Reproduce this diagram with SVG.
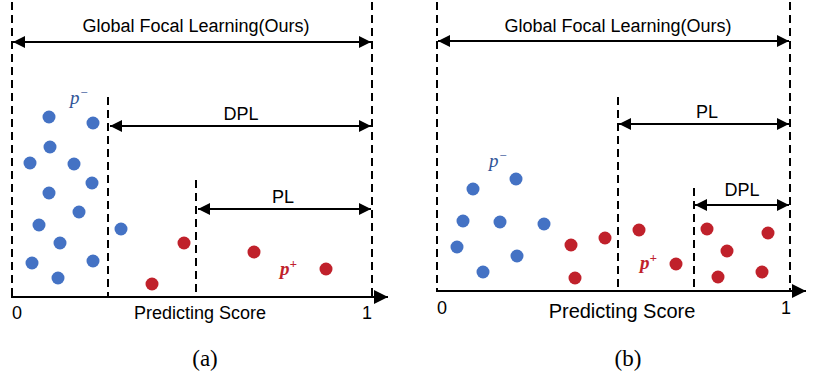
<svg xmlns="http://www.w3.org/2000/svg" width="820" height="374" viewBox="0 0 820 374">
<defs>
<marker id="ah" viewBox="0 0 12 12" refX="12" refY="6" markerWidth="12" markerHeight="12" markerUnits="userSpaceOnUse" orient="auto-start-reverse">
<path d="M0,0 L12,6 L0,12 z" fill="#000"/>
</marker>
<marker id="axh" viewBox="0 0 14 14" refX="14" refY="7" markerWidth="14" markerHeight="14" markerUnits="userSpaceOnUse" orient="auto">
<path d="M0,0 L14,7 L0,14 z" fill="#000"/>
</marker>
</defs>
<style>
.dash{stroke:#000;stroke-width:2;stroke-dasharray:8 5;fill:none}
.arr{stroke:#000;stroke-width:2.2;fill:none;marker-start:url(#ah);marker-end:url(#ah)}
.axis{stroke:#000;stroke-width:2.2;fill:none;marker-end:url(#axh)}
.lbl{font-family:"Liberation Sans",Arial,sans-serif;font-size:18px;fill:#000;text-anchor:middle}
.b{fill:#4472C4}
.r{fill:#C0212B}
.pm{font-family:"Liberation Serif","DejaVu Serif",serif;font-style:italic;font-size:19px;fill:#2F5597}
.pp{font-family:"Liberation Serif","DejaVu Serif",serif;font-style:italic;font-weight:bold;font-size:19px;fill:#C0212B}
.sup{font-size:13px}
.cap{font-family:"Liberation Serif","Times New Roman",serif;font-size:23px;fill:#000;text-anchor:middle}
</style>

<g id="panel-a">
<g id="a-connectors">
<line class="dash" x1="12" y1="2" x2="12" y2="297"/>
<line class="dash" x1="372" y1="2" x2="372" y2="297"/>
<line class="dash" x1="108" y1="97" x2="108" y2="297"/>
<line class="dash" x1="196" y1="180" x2="196" y2="297"/>
<line class="arr" x1="13" y1="42" x2="371" y2="42"/>
<line class="arr" x1="110" y1="126" x2="371" y2="126"/>
<line class="arr" x1="198" y1="209" x2="371" y2="209"/>
<line class="axis" x1="11" y1="297" x2="388" y2="297"/>
</g>
<g id="a-labels">
<text class="lbl" x="196" y="32">Global Focal Learning(Ours)</text>
<text class="lbl" x="241" y="120">DPL</text>
<text class="lbl" x="283" y="203">PL</text>
<text class="lbl" x="17" y="319">0</text>
<text class="lbl" x="367" y="319">1</text>
<text class="lbl" x="200" y="319">Predicting Score</text>
<text class="pm" x="70" y="104">p<tspan class="sup" dy="-7">−</tspan></text>
<text class="pp" x="280" y="275">p<tspan class="sup" dy="-7">+</tspan></text>
<text class="cap" x="205" y="366">(a)</text>
</g>
<g id="a-neg">
<circle class="b" cx="49" cy="117" r="6.5"/>
<circle class="b" cx="93" cy="123" r="6.5"/>
<circle class="b" cx="50" cy="147" r="6.5"/>
<circle class="b" cx="30" cy="163" r="6.5"/>
<circle class="b" cx="74" cy="164" r="6.5"/>
<circle class="b" cx="92" cy="183" r="6.5"/>
<circle class="b" cx="49" cy="193" r="6.5"/>
<circle class="b" cx="79" cy="212" r="6.5"/>
<circle class="b" cx="39" cy="225" r="6.5"/>
<circle class="b" cx="121" cy="229" r="6.5"/>
<circle class="b" cx="60" cy="243" r="6.5"/>
<circle class="b" cx="32" cy="263" r="6.5"/>
<circle class="b" cx="93" cy="261" r="6.5"/>
<circle class="b" cx="58" cy="278" r="6.5"/>
</g>
<g id="a-pos">
<circle class="r" cx="184" cy="243" r="6.5"/>
<circle class="r" cx="152" cy="284" r="6.5"/>
<circle class="r" cx="254" cy="252" r="6.5"/>
<circle class="r" cx="326" cy="269" r="6.5"/>
</g>
</g>

<g id="panel-b">
<g id="b-connectors">
<line class="dash" x1="437" y1="2" x2="437" y2="291"/>
<line class="dash" x1="790" y1="2" x2="790" y2="291"/>
<line class="dash" x1="618" y1="97" x2="618" y2="291"/>
<line class="dash" x1="694" y1="188" x2="694" y2="291"/>
<line class="arr" x1="438" y1="41" x2="789" y2="41"/>
<line class="arr" x1="619" y1="124" x2="789" y2="124"/>
<line class="arr" x1="695" y1="205" x2="789" y2="205"/>
<line class="axis" x1="436" y1="291" x2="806" y2="291"/>
</g>
<g id="b-labels">
<text class="lbl" x="618" y="32">Global Focal Learning(Ours)</text>
<text class="lbl" x="707" y="118">PL</text>
<text class="lbl" x="742" y="196">DPL</text>
<text class="lbl" x="442" y="314">0</text>
<text class="lbl" x="786" y="314">1</text>
<text class="lbl" x="622" y="318" style="font-size:20px">Predicting Score</text>
<text class="pm" x="489" y="167">p<tspan class="sup" dy="-7">−</tspan></text>
<text class="pp" x="640" y="269">p<tspan class="sup" dy="-7">+</tspan></text>
<text class="cap" x="628" y="366">(b)</text>
</g>
<g id="b-neg">
<circle class="b" cx="516" cy="179" r="6.5"/>
<circle class="b" cx="473" cy="189" r="6.5"/>
<circle class="b" cx="463" cy="221" r="6.5"/>
<circle class="b" cx="500" cy="222" r="6.5"/>
<circle class="b" cx="544" cy="224" r="6.5"/>
<circle class="b" cx="457" cy="247" r="6.5"/>
<circle class="b" cx="517" cy="256" r="6.5"/>
<circle class="b" cx="483" cy="272" r="6.5"/>
</g>
<g id="b-pos">
<circle class="r" cx="571" cy="245" r="6.5"/>
<circle class="r" cx="605" cy="238" r="6.5"/>
<circle class="r" cx="575" cy="278" r="6.5"/>
<circle class="r" cx="639" cy="230" r="6.5"/>
<circle class="r" cx="676" cy="264" r="6.5"/>
<circle class="r" cx="707" cy="229" r="6.5"/>
<circle class="r" cx="768" cy="233" r="6.5"/>
<circle class="r" cx="727" cy="251" r="6.5"/>
<circle class="r" cx="718" cy="277" r="6.5"/>
<circle class="r" cx="762" cy="272" r="6.5"/>
</g>
</g>
</svg>
